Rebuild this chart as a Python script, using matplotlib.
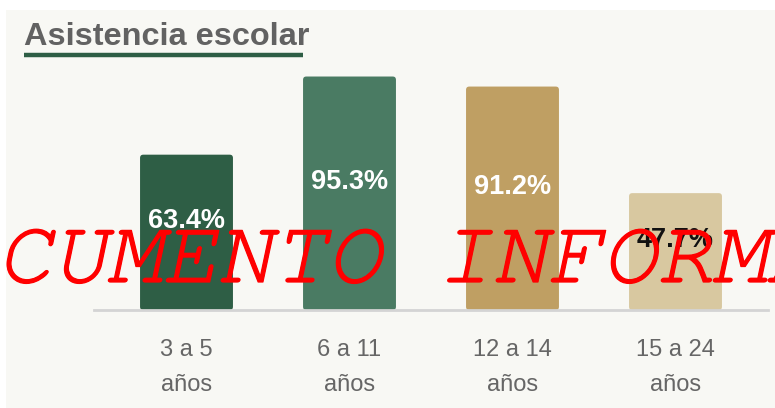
import matplotlib
matplotlib.use("Agg")
import matplotlib.pyplot as plt
import matplotlib.patheffects as pe
from matplotlib.patches import FancyBboxPatch, Rectangle
from matplotlib.lines import Line2D

# data
groups = ["3 a 5\naños", "6 a 11\naños", "12 a 14\naños", "15 a 24\naños"]
attendance = [63.4, 95.3, 91.2, 47.7]
bar_colors = ["#2e5e45", "#4a7b63", "#bf9f63", "#d8c8a0"]
label_colors = ["white", "white", "white", "#111111"]
title = "Asistencia escolar"
watermark = "DOCUMENTO INFORMATIVO"

W, H = 775, 408
fig = plt.figure(figsize=(W / 100, H / 100), dpi=100)
fig.patch.set_facecolor("white")

# light panel behind the chart
fig.patches.append(Rectangle((6 / W, 0), 1, 1 - 10 / H, transform=fig.transFigure,
                             facecolor="#f8f8f4", edgecolor="none", zorder=-5))

# title with green underline
fig.text(24 / W, 1 - 45 / H, title, fontsize=23.4, fontweight="bold",
         color="#626262", family="Liberation Sans", va="baseline", ha="left")
fig.lines.append(Line2D([24 / W, 303 / W], [1 - 55 / H, 1 - 55 / H],
                        transform=fig.transFigure, color="#2e5e45", lw=3.2,
                        solid_capstyle="butt"))

ax = fig.add_axes([94 / W, (H - 310) / H, 674 / W, 245 / H])
ax.set_facecolor("none")

x = list(range(len(groups)))
bars = ax.bar(x, attendance, width=0.57, color=bar_colors)

# swap plain rectangles for slightly rounded ones
for b in bars:
    b.set_visible(False)
    ax.add_patch(FancyBboxPatch((b.get_x(), 0), b.get_width(), b.get_height(),
                                boxstyle="round,pad=0,rounding_size=0.02",
                                mutation_aspect=66.5, facecolor=b.get_facecolor(),
                                edgecolor="none"))

for xi, v, c in zip(x, attendance, label_colors):
    ax.annotate(f"{v}%", (xi, v / 2), xytext=(0, 8), textcoords="offset points",
                ha="center", va="center", fontsize=19.5, fontweight="bold",
                color=c, family="Liberation Sans")

ax.set_xlim(-0.5675, 3.5675)
ax.set_ylim(0, 100)
ax.set_xticks(x)
ax.set_xticklabels(groups, fontsize=17, color="#666666",
                   family="Liberation Sans", linespacing=1.75)
ax.tick_params(axis="x", length=0, pad=21)
ax.set_yticks([])
for s in ["top", "left", "right"]:
    ax.spines[s].set_visible(False)
ax.spines["bottom"].set_color("#d4d4d4")
ax.spines["bottom"].set_linewidth(2)

# red watermark across the chart, clipped by the figure edges
wm = fig.text(-113 / W, 1 - 282 / H, watermark, fontsize=66, style="italic",
              fontweight="normal", color="#ff0000", va="baseline", ha="left",
              zorder=10,
              family=["Courier New", "Nimbus Mono PS", "FreeMono", "Liberation Mono"])
wm.set_path_effects([pe.withStroke(linewidth=0.9, foreground="#ff0000")])

fig.savefig("out.png", dpi=100)
